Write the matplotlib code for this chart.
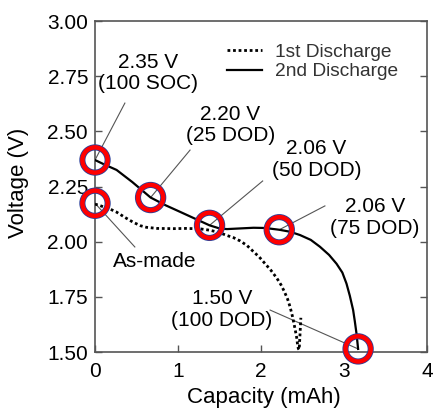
import matplotlib
matplotlib.use("Agg")
import matplotlib.pyplot as plt

plt.rcParams['font.family'] = ['Liberation Sans', 'DejaVu Sans']

# 1st discharge (dotted)
cap1 = [0.00, 0.05, 0.10, 0.18, 0.26, 0.36, 0.46, 0.55, 0.62, 0.75, 0.94, 1.10, 1.27, 1.38, 1.45, 1.52, 1.59, 1.67, 1.75, 1.83, 1.90, 1.98, 2.05, 2.12, 2.19, 2.24, 2.28, 2.32, 2.35, 2.38, 2.41, 2.43, 2.44, 2.45, 2.46, 2.47, 2.48]
volt1 = [2.17, 2.165, 2.158, 2.148, 2.134, 2.11, 2.088, 2.072, 2.065, 2.06, 2.059, 2.06, 2.058, 2.052, 2.046, 2.038, 2.028, 2.018, 2.003, 1.983, 1.958, 1.93, 1.90, 1.87, 1.835, 1.805, 1.775, 1.74, 1.705, 1.66, 1.605, 1.565, 1.535, 1.515, 1.51, 1.58, 1.655]

# 2nd discharge (solid)
cap2 = [0.00, 0.10, 0.26, 0.45, 0.67, 0.85, 1.02, 1.20, 1.38, 1.50, 1.59, 1.75, 1.91, 2.05, 2.22, 2.35, 2.47, 2.60, 2.71, 2.82, 2.91, 2.98, 3.03, 3.07, 3.11, 3.13, 3.15, 3.16, 3.17]
volt2 = [2.37, 2.352, 2.325, 2.27, 2.20, 2.165, 2.136, 2.105, 2.074, 2.06, 2.057, 2.06, 2.063, 2.062, 2.054, 2.045, 2.03, 2.008, 1.977, 1.94, 1.90, 1.86, 1.81, 1.755, 1.69, 1.64, 1.585, 1.55, 1.514]

# Marked points
mark_cap = [0.0, 0.67, 1.38, 2.22, 3.17, 0.0]
mark_volt = [2.37, 2.20, 2.074, 2.054, 1.514, 2.174]
labels = ["2.35 V\n(100 SOC)", "2.20 V\n(25 DOD)", "2.06 V\n(50 DOD)",
          "2.06 V\n(75 DOD)", "1.50 V\n(100 DOD)", "As-made"]
text_pos = [(0.64, 2.766), (1.63, 2.529), (2.67, 2.372), (3.37, 2.109), (1.53, 1.693), (0.72, 1.908)]
leader_end = [(0.36, 2.628), (1.145, 2.415), (2.02, 2.275), (2.77, 2.162), (2.11, 1.690), (0.48, 1.976)]

fig = plt.figure(figsize=(4.34, 4.11), dpi=100)
ax = fig.add_axes([95/434, 1-352/411, 332/434, 331/411])

ax.plot(cap1, volt1, color='black', lw=2.0, linestyle=(0, (1.0, 1.0)), label='1st Discharge', zorder=3)
ax.plot(cap2, volt2, color='black', lw=1.6, label='2nd Discharge', zorder=3)

for (cx, cy), (tx, ty), (ex, ey), lab in zip(zip(mark_cap, mark_volt), text_pos, leader_end, labels):
    ax.plot([cx, ex], [cy, ey], color='#555555', lw=0.8, zorder=2)
    ax.text(tx, ty, lab, ha='center', va='center', fontsize=15, linespacing=1.15, zorder=5)

ax.scatter(mark_cap, mark_volt, s=330, facecolors='none', edgecolors='#2a3f9a', linewidths=4.4, zorder=6, clip_on=False)
ax.scatter(mark_cap, mark_volt, s=330, facecolors='none', edgecolors='#ff0000', linewidths=3.2, zorder=7, clip_on=False)

ax.set_xlim(0, 4)
ax.set_ylim(1.5, 3.0)
ax.set_xticks([0, 1, 2, 3, 4])
ax.set_yticks([1.5, 1.75, 2.0, 2.25, 2.5, 2.75, 3.0])
ax.set_yticklabels(['1.50', '1.75', '2.00', '2.25', '2.50', '2.75', '3.00'])
ax.tick_params(direction='in', length=5, width=1.0, color='#555555', labelsize=15,
               right=True, top=False)
ax.tick_params(axis='x', pad=7)
ax.tick_params(axis='y', pad=5)
for s in ax.spines.values():
    s.set_color('#555555')
    s.set_linewidth(1.2)

ax.set_xlabel('Capacity (mAh)', fontsize=16)
ax.set_ylabel('Voltage (V)', fontsize=16)
ax.xaxis.set_label_coords(0.51, -0.105)
ax.yaxis.set_label_coords(-0.20, 0.51)

leg = ax.legend(loc='upper left', bbox_to_anchor=(0.375, 0.955), frameon=False, fontsize=13.8,
                handlelength=1.8, handletextpad=0.7, labelspacing=0.1, borderaxespad=0)
for t in leg.get_texts():
    t.set_color('#333333')

fig.savefig('out.png', dpi=100)
